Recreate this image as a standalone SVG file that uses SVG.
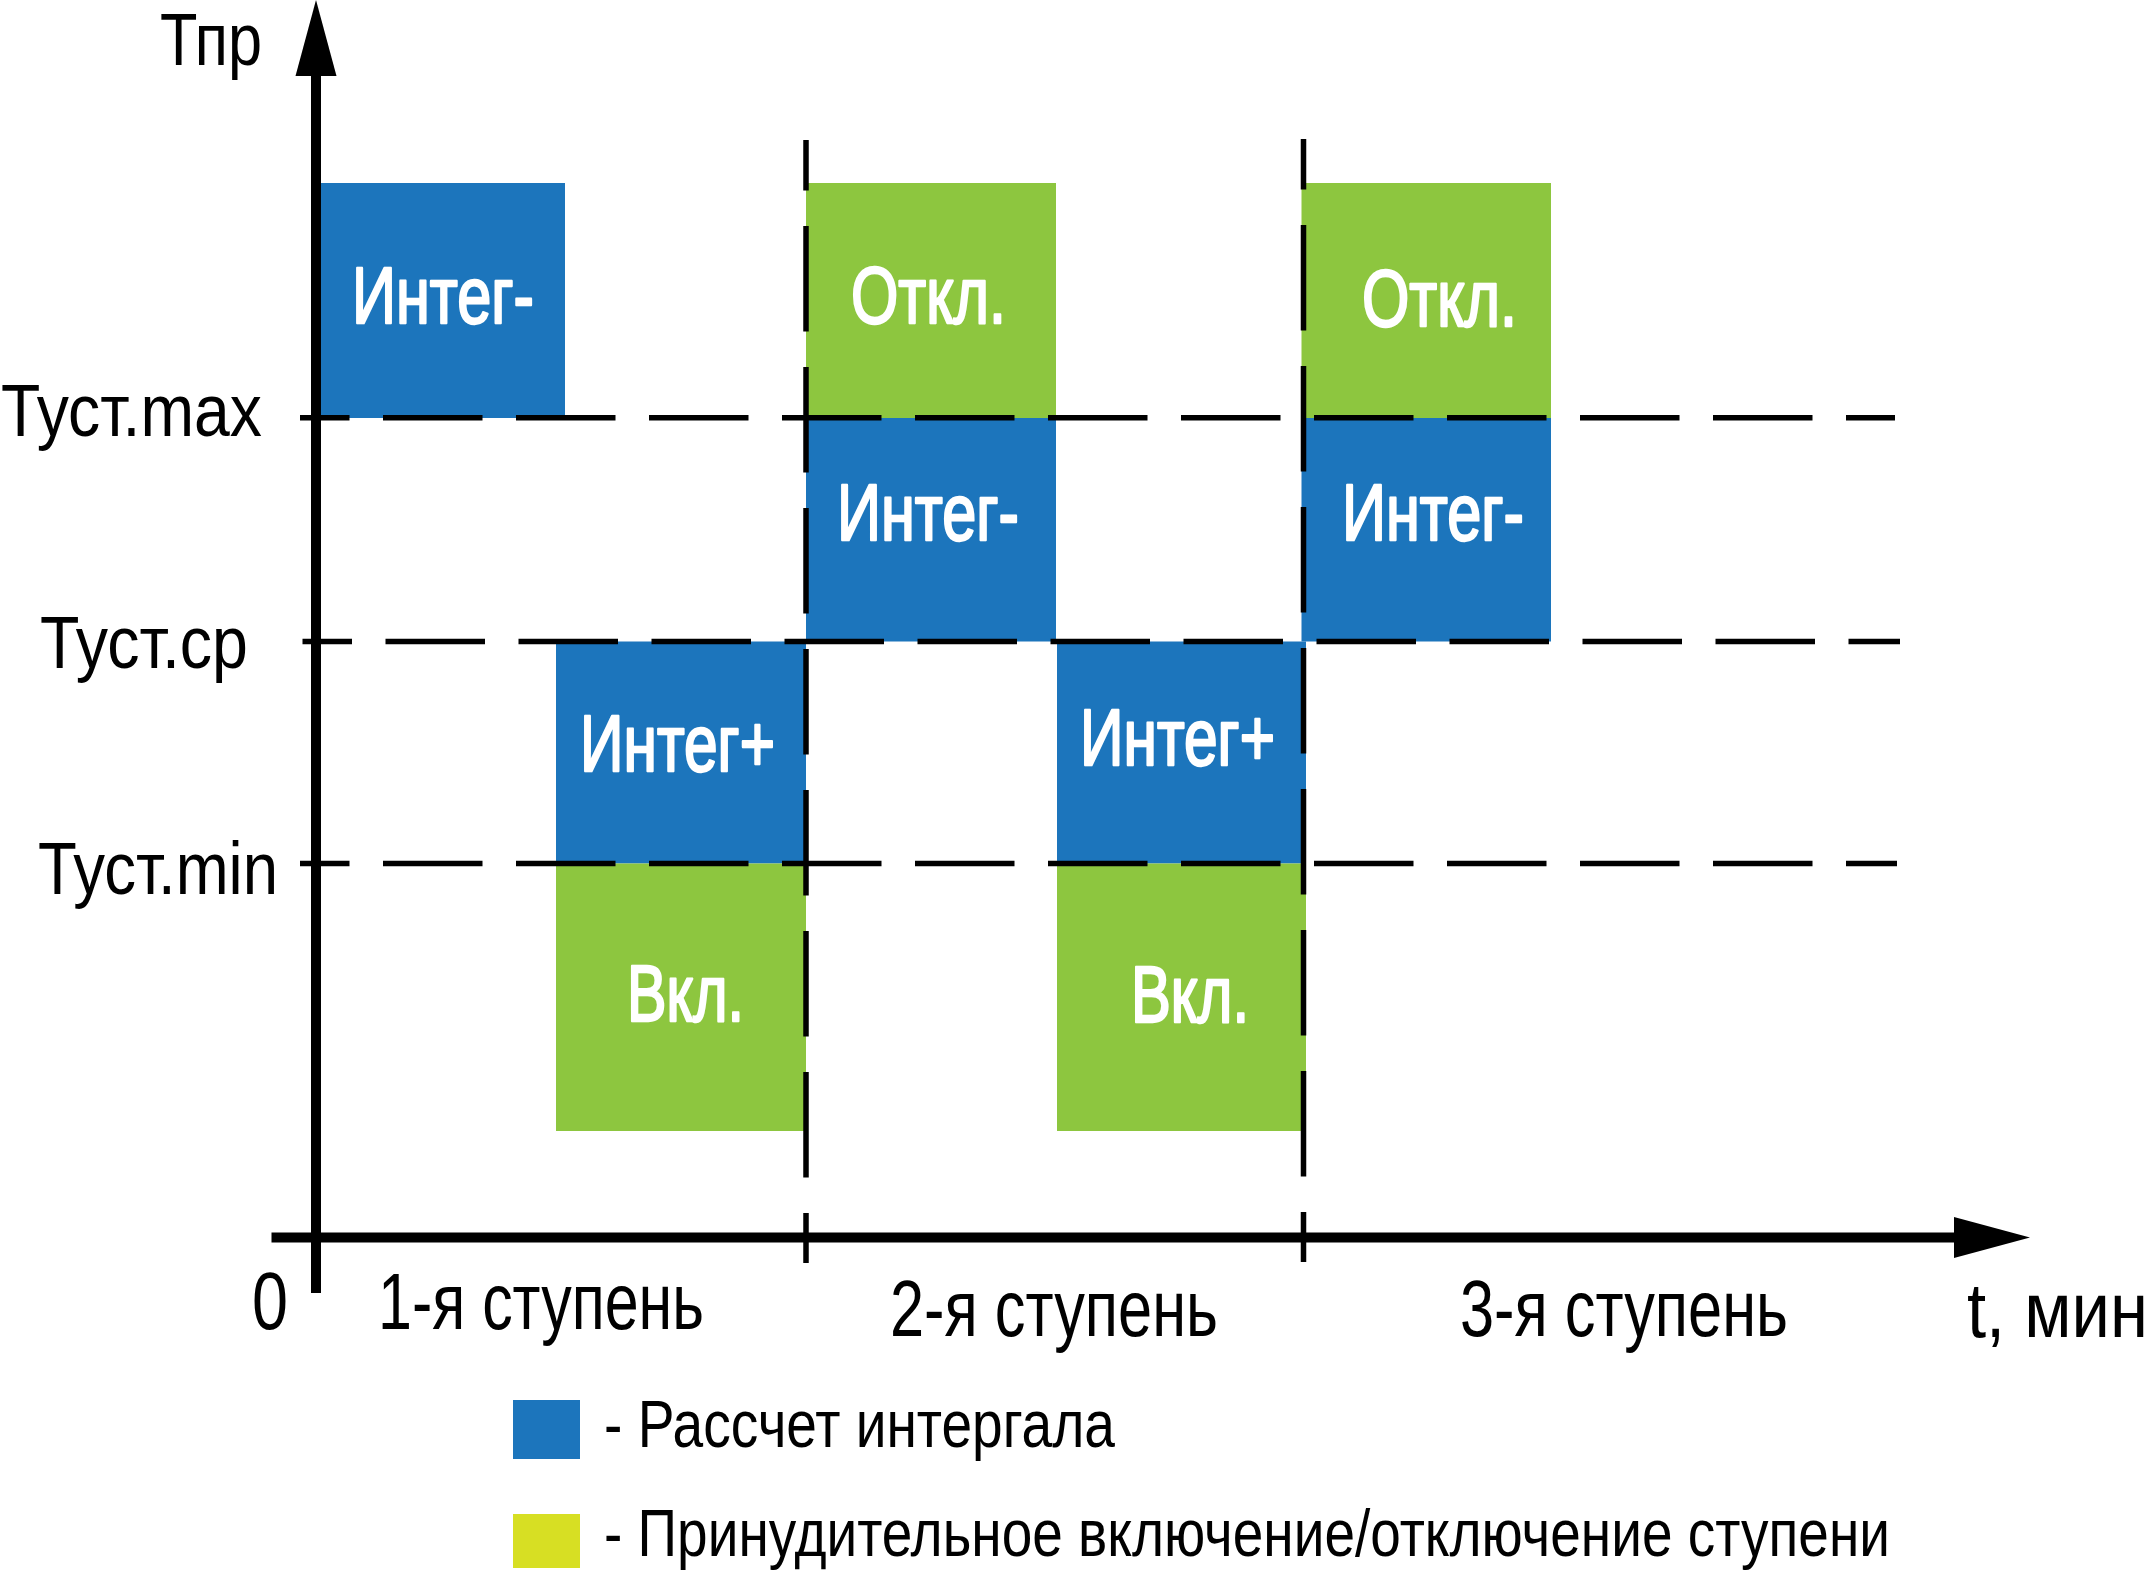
<svg xmlns="http://www.w3.org/2000/svg" width="2154" height="1576" viewBox="0 0 2154 1576">
  <defs>
    <style>
      .blue { fill: #1C75BC; }
      .green { fill: #8DC63F; }
      .yellow { fill: #D7DF23; }
      .lbl { font-family: "Liberation Sans", Arial, sans-serif; fill: #000; }
      .in { font-family: "Liberation Sans", Arial, sans-serif; font-weight: normal; font-size: 79px; fill: #fff; stroke: #fff; stroke-width: 2.4; stroke-linejoin: round; }
      .axis { stroke: #000; stroke-width: 10; fill: none; }
      .hd { stroke: #000; stroke-width: 5.5; fill: none; stroke-dasharray: 99.5 33.5; stroke-dashoffset: 50; }
      .vd { stroke: #000; stroke-width: 5.5; fill: none; stroke-dasharray: 105.5 35.5; stroke-dashoffset: 55; }
    </style>
    <marker id="arrow" markerUnits="userSpaceOnUse" markerWidth="76" markerHeight="41" refX="0" refY="20.5" orient="auto" overflow="visible">
      <path d="M0,0 L76,20.5 L0,41 Z" fill="#000"/>
    </marker>
  </defs>
  <rect x="0" y="0" width="2154" height="1576" fill="#fff"/>

  <g id="n-integ-minus-1">
    <rect class="blue" x="321" y="183" width="244" height="235"/>
    <text class="in" x="352" y="323" textLength="182" lengthAdjust="spacingAndGlyphs">Интег-</text>
  </g>
  <g id="n-otkl-1">
    <rect class="green" x="806" y="183" width="250" height="235"/>
    <text class="in" x="851" y="323" textLength="155" lengthAdjust="spacingAndGlyphs">Откл.</text>
  </g>
  <g id="n-integ-minus-2">
    <rect class="blue" x="806" y="418" width="250" height="223.5"/>
    <text class="in" x="837" y="540" textLength="182" lengthAdjust="spacingAndGlyphs">Интег-</text>
  </g>
  <g id="n-otkl-2">
    <rect class="green" x="1301.5" y="183" width="249.5" height="235"/>
    <text class="in" x="1362" y="326" textLength="155" lengthAdjust="spacingAndGlyphs">Откл.</text>
  </g>
  <g id="n-integ-minus-3">
    <rect class="blue" x="1301.5" y="418" width="249.5" height="223.5"/>
    <text class="in" x="1342" y="540" textLength="182" lengthAdjust="spacingAndGlyphs">Интег-</text>
  </g>
  <g id="n-integ-plus-1">
    <rect class="blue" x="556" y="641.5" width="250" height="222"/>
    <text class="in" x="580" y="771" textLength="195" lengthAdjust="spacingAndGlyphs">Интег+</text>
  </g>
  <g id="n-vkl-1">
    <rect class="green" x="556" y="863.5" width="250" height="267.5"/>
    <text class="in" x="627" y="1020.5" textLength="117" lengthAdjust="spacingAndGlyphs">Вкл.</text>
  </g>
  <g id="n-integ-plus-2">
    <rect class="blue" x="1057" y="641.5" width="249" height="222"/>
    <text class="in" x="1080" y="765" textLength="195" lengthAdjust="spacingAndGlyphs">Интег+</text>
  </g>
  <g id="n-vkl-2">
    <rect class="green" x="1057" y="863.5" width="249" height="267.5"/>
    <text class="in" x="1131" y="1022" textLength="118" lengthAdjust="spacingAndGlyphs">Вкл.</text>
  </g>

  <g id="connectors">
    <line class="hd" x1="300" y1="417.7" x2="1895" y2="417.7"/>
    <line class="hd" x1="302.5" y1="641.5" x2="1900" y2="641.5"/>
    <line class="hd" x1="300" y1="863.6" x2="1897" y2="863.6"/>
    <line class="vd" x1="806" y1="140" x2="806" y2="1263"/>
    <line class="vd" x1="1303.5" y1="139" x2="1303.5" y2="1262"/>
    <line class="axis" x1="316" y1="1293" x2="316" y2="76" marker-end="url(#arrow)"/>
    <line class="axis" x1="271.5" y1="1237.5" x2="1954" y2="1237.5" marker-end="url(#arrow)"/>
  </g>

  <g id="axis-labels">
    <text class="lbl" x="160" y="65" font-size="74" textLength="102" lengthAdjust="spacingAndGlyphs">Тпр</text>
    <text class="lbl" x="1" y="436" font-size="74" textLength="261" lengthAdjust="spacingAndGlyphs">Туст.max</text>
    <text class="lbl" x="40" y="668" font-size="74" textLength="208" lengthAdjust="spacingAndGlyphs">Туст.ср</text>
    <text class="lbl" x="38" y="893.5" font-size="74" textLength="240" lengthAdjust="spacingAndGlyphs">Туст.min</text>
    <text class="lbl" x="252" y="1329" font-size="82" textLength="36" lengthAdjust="spacingAndGlyphs">0</text>
    <text class="lbl" x="378" y="1329" font-size="79" textLength="326" lengthAdjust="spacingAndGlyphs">1-я ступень</text>
    <text class="lbl" x="890" y="1335.7" font-size="79" textLength="328" lengthAdjust="spacingAndGlyphs">2-я ступень</text>
    <text class="lbl" x="1460" y="1335.7" font-size="79" textLength="328" lengthAdjust="spacingAndGlyphs">3-я ступень</text>
    <text class="lbl" x="1967" y="1336.7" font-size="78" textLength="181" lengthAdjust="spacingAndGlyphs">t, мин</text>
  </g>

  <g id="legend">
    <rect class="blue" x="513" y="1400" width="67" height="59"/>
    <text class="lbl" x="604" y="1447.3" font-size="67" textLength="511" lengthAdjust="spacingAndGlyphs">- Рассчет интергала</text>
    <rect class="yellow" x="513" y="1514" width="67" height="54"/>
    <text class="lbl" x="604" y="1556" font-size="67" textLength="1286" lengthAdjust="spacingAndGlyphs">- Принудительное включение/отключение ступени</text>
  </g>
</svg>
